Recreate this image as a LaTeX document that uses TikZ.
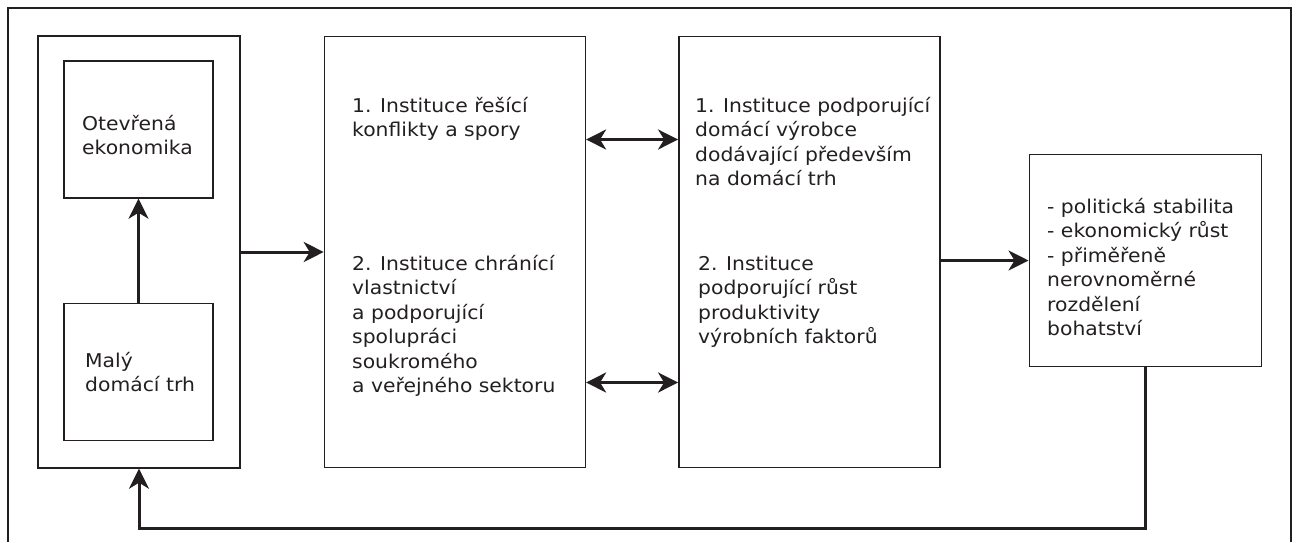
\documentclass[tikz,border=0pt]{standalone}
\usepackage{fontspec}
\setmainfont{DejaVu Sans}[FakeStretch=1.07]
\usetikzlibrary{arrows.meta, positioning}
\definecolor{ink}{RGB}{35,31,32}
\tikzset{%
	frame/.style={draw=ink, line width=1.4pt, rectangle, inner sep=0pt},
	outer/.style={frame, minimum width=202pt, minimum height=432pt},
	inbox/.style={frame, minimum width=149pt, minimum height=137pt},
	inst/.style={frame, minimum width=261pt, minimum height=431pt},
	goalbox/.style={frame, minimum width=232pt, minimum height=212pt},
	% multi-line labels sit on the baseline of their last line
	lbl/.style={anchor=base west, align=left, inner sep=0pt, text=ink,%
		font=\fontsize{19}{24.5}\selectfont},
	conn/.style={draw=ink, line width=3pt, ->},
	biconn/.style={draw=ink, line width=3pt, <->}
}

\begin{document}
\begin{tikzpicture}[x=1pt, y=-1pt, >={Stealth[length=20pt, width=20pt, inset=6pt]}]
	\useasboundingbox (0,0) rectangle (1298,542);
	\draw[ink, line width=1.4pt] (8,542) -- (8,8) -- (1291,8) -- (1291,542);

	\node[outer] (ctx) at (139,252) {};
	\node[inbox] (open) at (138.5,129.5) {};
	\node[inbox, below=104pt of open] (small) {};
	\node[inst, right=83pt of ctx] (inst1) {};
	\node[inst, right=92pt of inst1] (inst2) {};
	\node[goalbox, right=88pt of inst2, yshift=-8.5pt] (goal) {};

	\node[lbl] (open-t) at (82,154.5) {Otevřená\\ekonomika};
	\node[lbl] (small-t) at (85,391.5) {Malý\\domácí trh};
	\node[lbl] (inst1-a) at (352,136.5) {1. Instituce řešící\\konflikty a spory};
	\node[lbl] (inst1-b) at (352,392.5) {2. Instituce chránící\\vlastnictví\\a podporující\\spolupráci\\soukromého\\a veřejného sektoru};
	\node[lbl] (inst2-a) at (695,185.5) {1. Instituce podporující\\domácí výrobce\\dodávající především\\na domácí trh};
	\node[lbl] (inst2-b) at (698,343.5) {2. Instituce\\podporující růst\\produktivity\\výrobních faktorů};
	\node[lbl] (goal-t) at (1047,335.5) {- politická stabilita\\- ekonomický růst\\- přiměřeně\\nerovnoměrné\\rozdělení\\bohatství};

	\draw[conn] (small) -- (open);
	\draw[conn] (ctx) -- (inst1);
	\draw[biconn] ([yshift=112.5pt]inst1.east) -- ([yshift=112.5pt]inst2.west);
	\draw[biconn] ([yshift=-130.5pt]inst1.east) -- ([yshift=-130.5pt]inst2.west);
	\draw[conn] (inst2.east |- goal.west) -- (goal.west);
	\draw[conn] (goal.south) |- ([yshift=-60pt]ctx.south) -- (ctx.south);
\end{tikzpicture}
\end{document}
